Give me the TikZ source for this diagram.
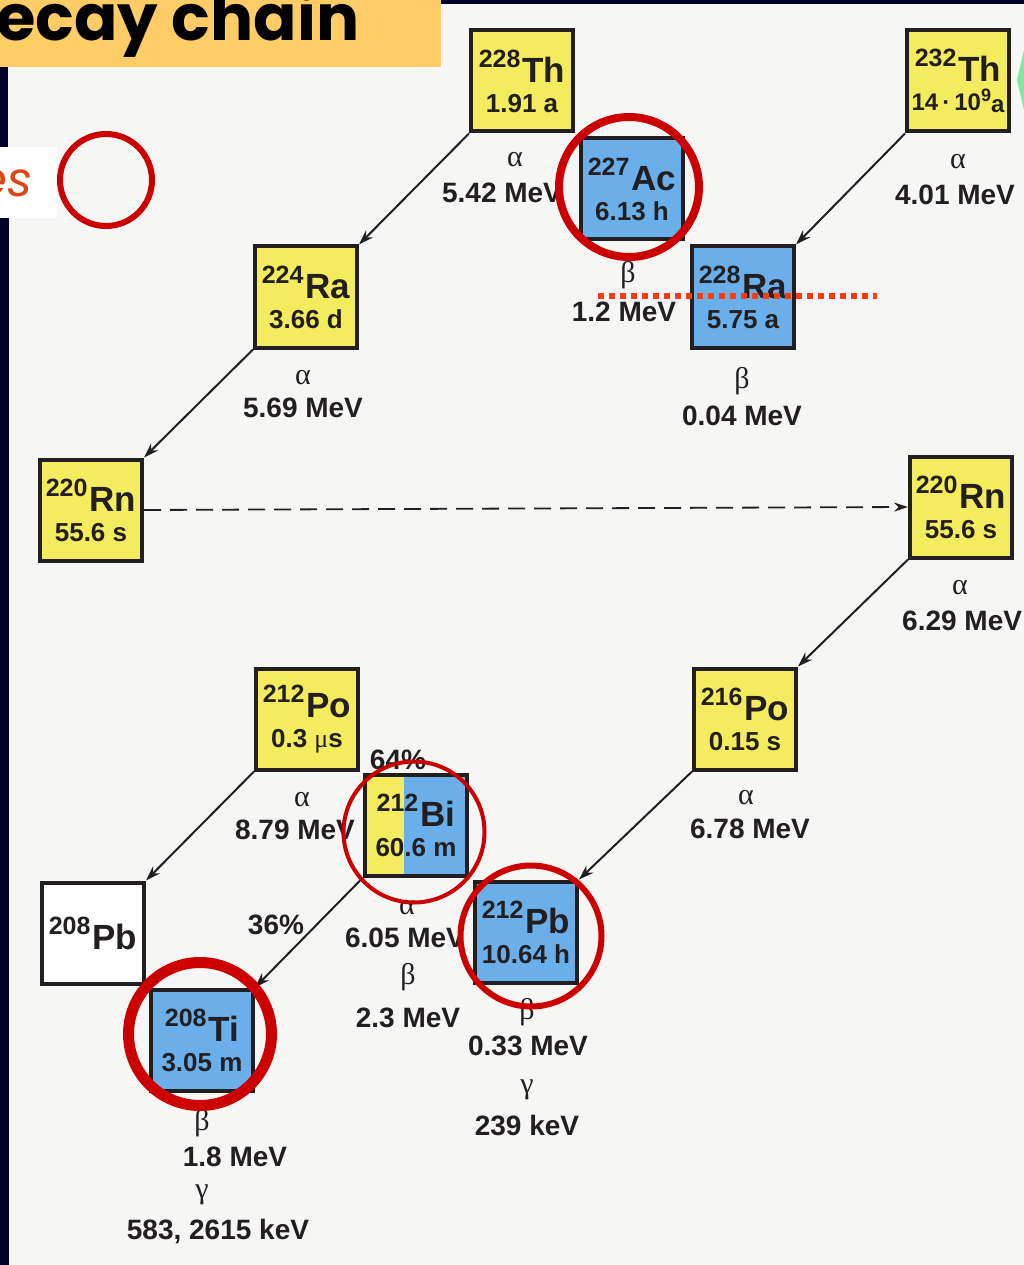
\documentclass[tikz,border=0pt]{standalone}
\usepackage{fontspec}
\setmainfont{Liberation Sans}
\newfontfamily\greekfont{Liberation Serif}
\newfontfamily\titlefont{Poppins}
\usetikzlibrary{arrows.meta,calc}

\definecolor{boxyellow}{HTML}{F3EC5E}
\definecolor{boxblue}{HTML}{6AAEEA}
\definecolor{inkc}{HTML}{231F20}
\definecolor{ringred}{HTML}{CC0000}
\definecolor{dotred}{HTML}{FF3A10}
\definecolor{navy}{HTML}{000028}
\definecolor{titlebg}{HTML}{FFCC66}
\definecolor{paper}{HTML}{F6F6F4}
\definecolor{notec}{HTML}{DD4411}
\definecolor{tipgreen}{HTML}{7FE8A0}

% mass number raised before the element symbol
\newcommand\massno[1]{\raisebox{15pt}{\fontsize{25}{25}\selectfont #1}\kern2pt}
\newcommand\elem[1]{{\fontsize{35}{35}\selectfont #1}}

\begin{document}
\begin{tikzpicture}[x=1pt,y=-1pt,
  nuclide/.style={draw=inkc, line width=4pt, minimum width=102pt, minimum height=101pt,
    inner sep=0pt, align=center, text=inkc, font=\bfseries\fontsize{26}{30}\selectfont},
  yellowbox/.style={nuclide, fill=boxyellow},
  bluebox/.style={nuclide, fill=boxblue},
  whitebox/.style={nuclide, fill=white},
  decayarrow/.style={draw=inkc, line width=2pt, -{Stealth[length=15pt,width=10pt]}},
  transport/.style={draw=inkc, line width=1.8pt, dash pattern=on 17pt off 9pt,
    -{Stealth[length=14pt,width=9pt]}},
  gk/.style={font=\greekfont\fontsize{30}{30}\selectfont, text=inkc, inner sep=0pt},
  en/.style={font=\bfseries\fontsize{28}{28}\selectfont, text=inkc, inner sep=0pt},
  ring/.style={draw=ringred, circle, inner sep=0pt},
]
% page and frame
\useasboundingbox (0,0) rectangle (1024,1265);
\fill[paper] (0,0) rectangle (1024,1265);
\fill[navy] (441,0) rectangle (1024,4.5);
\fill[navy] (0,67) rectangle (8,147);
\fill[navy] (0,218) rectangle (9,1265);
\fill[tipgreen] (1024,50) -- (1017,80) -- (1024,110) -- cycle;

% title banner
\begin{scope}
  \clip (0,0) rectangle (441,67);
  \fill[titlebg] (0,0) rectangle (441,67);
  \node[anchor=base west, inner sep=0pt, text=black,
    font=\titlefont\bfseries\fontsize{64}{64}\selectfont] (title) at (-4,41) {ecay chain};
\end{scope}

% side note
\fill[white] (0,147) rectangle (57,218);
\begin{scope}
  \clip (0,147) rectangle (57,218);
  \node[anchor=base east, inner sep=0pt, text=notec,
    font=\titlefont\itshape\fontsize{48}{48}\selectfont] (note) at (33,197) {es};
\end{scope}

% nuclides
\node[yellowbox] (th228) at (522,81)  {\massno{228}\elem{Th}\\1.91 a};
\node[yellowbox] (th232) at (958,81)  {\massno{232}\elem{Th}\\[-1pt]{\fontsize{24}{24}\selectfont 14\,·\,10\raisebox{9pt}{\fontsize{18}{18}\selectfont 9}\raisebox{-2pt}{a}}};
\node[bluebox]   (ac227) at (632,189) {\massno{227}\elem{Ac}\\6.13 h};
\node[yellowbox] (ra224) at (306,297) {\massno{224}\elem{Ra}\\3.66 d};
\node[bluebox]   (ra228) at (743,297) {\massno{228}\elem{Ra}\\5.75 a};
\node[yellowbox] (rnL)   at (91,510)  {\massno{220}\elem{Rn}\\55.6 s};
\node[yellowbox] (rnR)   at (961,507) {\massno{220}\elem{Rn}\\55.6 s};
\node[yellowbox] (po216) at (745,719) {\massno{216}\elem{Po}\\0.15 s};
\node[yellowbox] (po212) at (307,719) {\massno{212}\elem{Po}\\0.3 {\greekfont\mdseries μ}s};
\node[bluebox, path picture={\fill[boxyellow] (path picture bounding box.north west)
    rectangle ($(path picture bounding box.south west)+(39,0)$);}]
                 (bi212) at (416,825) {\massno{212}\elem{Bi}\\60.6 m};
\node[whitebox]  (pb208) at (93,933)  {\massno{208}\elem{Pb}};
\node[bluebox]   (pb212) at (526,932) {\massno{212}\elem{Pb}\\10.64 h};
\node[bluebox]   (ti208) at (202,1040) {\massno{208}\elem{Ti}\\3.05 m};

% decays
\draw[decayarrow] (th228.south west) -- (ra224.north east);
\draw[decayarrow] (th232.south west) -- (ra228.north east);
\draw[decayarrow] (ra224.south west) -- (rnL.north east);
\draw[transport]  (rnL.east) -- (rnR.west);
\draw[decayarrow] (rnR.south west) -- (po216.north east);
\draw[decayarrow] (po216.south west) -- (pb212.north east);
\draw[decayarrow] (po212.south west) -- (pb208.north east);
\draw[decayarrow] (bi212.south west) -- (ti208.north east);

% decay labels
\node[gk] (a1) at (515,160) {α};  \node[en] (e1) at (502,193) {5.42 MeV};
\node[gk] (a2) at (958,162) {α};  \node[en] (e2) at (955,195) {4.01 MeV};
\node[gk] (b1) at (628,275) {β};  \node[en] (e3) at (624,312) {1.2 MeV};
\node[gk] (a3) at (303,378) {α};  \node[en] (e4) at (303,408) {5.69 MeV};
\node[gk] (b2) at (742,381) {β};  \node[en] (e5) at (742,416) {0.04 MeV};
\node[gk] (a4) at (960,588) {α};  \node[en, anchor=west] (e6) at (902,621) {6.29 MeV};
\node[gk] (a5) at (746,798) {α};  \node[en] (e7) at (750,829) {6.78 MeV};
\node[gk] (a6) at (302,800) {α};  \node[en] (e8) at (295,830) {8.79 MeV};
\node[en] (p64) at (398,760) {64\%};
\node[gk] (a7) at (407,908) {α};  \node[en] (e9) at (405,938) {6.05 MeV};
\node[gk] (b3) at (408,977) {β};  \node[en] (e10) at (408,1018) {2.3 MeV};
\node[en] (p36) at (276,925) {36\%};
\node[gk] (b4) at (527,1012) {β}; \node[en] (e11) at (528,1046) {0.33 MeV};
\node[gk] (g1) at (527,1090) {γ}; \node[en] (e12) at (527,1125) {239 keV};
\node[gk] (b5) at (202,1123) {β}; \node[en] (e13) at (235,1157) {1.8 MeV};
\node[gk] (g2) at (202,1195) {γ}; \node[en] (e14) at (218,1232) {583, 2615 keV};

% highlights
\coordinate (cutL) at (598,296);
\coordinate (cutR) at (877,296);
\draw[dotred, line width=5.5pt, dash pattern=on 6pt off 5pt] (cutL) -- (cutR);
\node[ring, line width=6pt, minimum size=92pt]  (ringNote) at (106,180) {};
\node[ring, line width=8pt, minimum size=140pt] (ringAc) at (629,187) {};
\node[ring, line width=4pt, minimum size=141pt] (ringBi) at (414,832) {};
\node[ring, line width=6pt, minimum size=141pt] (ringPb) at (531,936) {};
\node[ring, line width=11pt, minimum size=143pt] (ringTi) at (200,1034) {};
\end{tikzpicture}
\end{document}
